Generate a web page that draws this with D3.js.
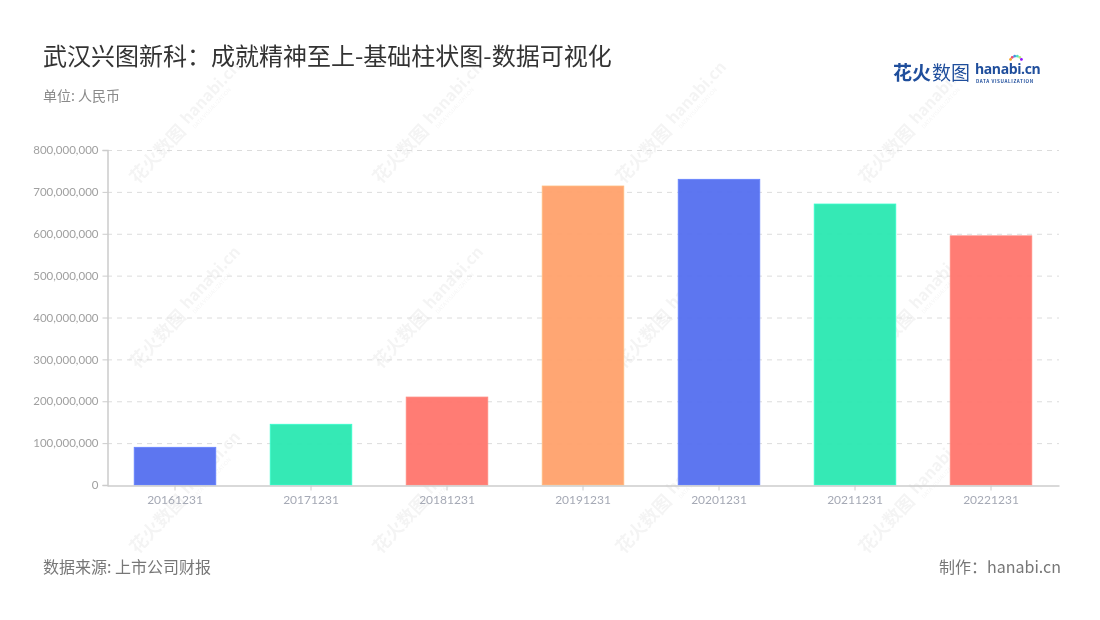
<!DOCTYPE html>
<html><head><meta charset="utf-8">
<script src="https://cdn.jsdelivr.net/npm/d3@7"></script>
<style>
html,body{margin:0;padding:0;background:#fff;}
svg{display:block;font-family:"Noto Sans CJK SC","Noto Sans",sans-serif;}
</style></head>
<body><svg id="chart" width="1100" height="620"></svg>
<script>
const categories = ["20161231","20171231","20181231","20191231","20201231","20211231","20221231"];
const values = [90000000,145000000,210000000,714000000,730000000,671000000,595000000];
const yTicks = [0,100000000,200000000,300000000,400000000,500000000,600000000,700000000,800000000];
const palette = ["#5872ef","#2ee8b3","#ff7870","#ffa36e"];
const title = "武汉兴图新科：成就精神至上-基础柱状图-数据可视化";
const unitText = "单位: 人民币";
const sourceText = "数据来源: 上市公司财报";
const makerText = "制作：hanabi.cn";

const svg = d3.select("#chart");
const m = {left:107, right:1059, top:150, bottom:485};

// watermarks
const wmX = [185, 428, 671, 914], wmY = [125, 310, 495];
const wm = svg.append("g").attr("opacity",0.045);
wmY.forEach(yy => wmX.forEach(xx => {
  const g = wm.append("g").attr("transform",`translate(${xx},${yy}) rotate(-47)`);
  g.append("text").attr("x",-76).attr("y",6).attr("font-size",18).attr("font-weight",700).attr("fill","#000").text("花火数图");
  g.append("text").attr("x",2).attr("y",2).attr("font-size",16).attr("font-weight",700).attr("fill","#000").text("hanabi.cn");
  g.append("text").attr("x",4).attr("y",10).attr("font-size",5.5).attr("fill","#000").text("DATA VISUALIZATION");
}));

const x = d3.scaleBand().domain(categories).range([m.left, m.right]).paddingInner(0.4).paddingOuter(0.2);
const y = d3.scaleLinear().domain([0, 800000000]).range([m.bottom, m.top]);

// grid
svg.append("g").selectAll("line").data(yTicks.slice(1)).join("line")
  .attr("x1",m.left).attr("x2",m.right)
  .attr("y1",d=>y(d)+0.5).attr("y2",d=>y(d)+0.5)
  .attr("stroke","#dcdcdc").attr("stroke-dasharray","5,5").attr("stroke-width",1);

// bars
svg.append("g").selectAll("rect").data(values).join("rect")
  .attr("x",(d,i)=>x(categories[i]))
  .attr("y",d=>y(d))
  .attr("width",x.bandwidth())
  .attr("height",d=>m.bottom-y(d))
  .attr("fill",(d,i)=>palette[i%palette.length])
  .attr("fill-opacity",0.97)
  .attr("stroke",(d,i)=>d3.color(palette[i%palette.length]).brighter(0.4))
  .attr("stroke-width",0.8);

// y axis
const yAxis = svg.append("g").attr("transform",`translate(${m.left+0.5},0)`)
  .call(d3.axisLeft(y).tickValues(yTicks).tickFormat(d3.format(",")).tickSize(5).tickPadding(4));
yAxis.select(".domain").attr("stroke","#cccccc").attr("stroke-width",1.5);
yAxis.selectAll(".tick line").attr("stroke","#cccccc");
yAxis.selectAll("text").attr("fill","#a0a0a0").attr("font-size",11.5).attr("font-family","Lato, 'Noto Sans', sans-serif");

// x axis
const xAxis = svg.append("g").attr("transform",`translate(0,${m.bottom+0.5})`)
  .call(d3.axisBottom(x).tickSize(5).tickPadding(5).tickSizeOuter(0));
xAxis.select(".domain").attr("stroke","#cccccc").attr("stroke-width",1.5);
xAxis.selectAll(".tick line").attr("stroke","#cccccc");
xAxis.selectAll("text").attr("fill","#a5a9b5").attr("font-size",12).attr("font-family","Lato, 'Noto Sans', sans-serif");

// titles
svg.append("text").attr("x",43).attr("y",65).attr("font-size",24).attr("fill","#333").text(title);
svg.append("text").attr("x",43).attr("y",101).attr("font-size",14).attr("fill","#8a8a8a").text(unitText);
svg.append("text").attr("x",43).attr("y",573).attr("font-size",16).attr("fill","#777").text(sourceText);
svg.append("text").attr("x",1061).attr("y",573).attr("text-anchor","end").attr("font-size",16).attr("fill","#777").text(makerText);

// logo
const logo = svg.append("g");
logo.append("text").attr("x",893).attr("y",80).attr("font-size",19).attr("font-weight",700).attr("fill","#1f4e9c").text("花火");
logo.append("text").attr("x",932).attr("y",80).attr("font-size",19).attr("fill","#1f4e9c").text("数图");
logo.append("text").attr("x",975).attr("y",74).attr("font-size",14).attr("font-weight",700).attr("fill","#1f4e9c").attr("font-family","'Open Sans',sans-serif").attr("letter-spacing",-0.4).text("hanabi.cn");
logo.append("text").attr("x",976).attr("y",83).attr("font-size",4.6).attr("font-weight",700).attr("fill","#1f4e9c").attr("letter-spacing",0.6).text("DATA VISUALIZATION");
const starCols = ["#f5a623","#e94e77","#4a90e2","#50e3c2","#b8e986","#9013fe"];
starCols.forEach((c,i)=>{
  const a = -Math.PI/2 + (i-2.5)*0.45;
  logo.append("circle").attr("cx",1016+Math.cos(a)*6).attr("cy",62+Math.sin(a)*6).attr("r",1.4).attr("fill",c);
});
</script></body></html>
